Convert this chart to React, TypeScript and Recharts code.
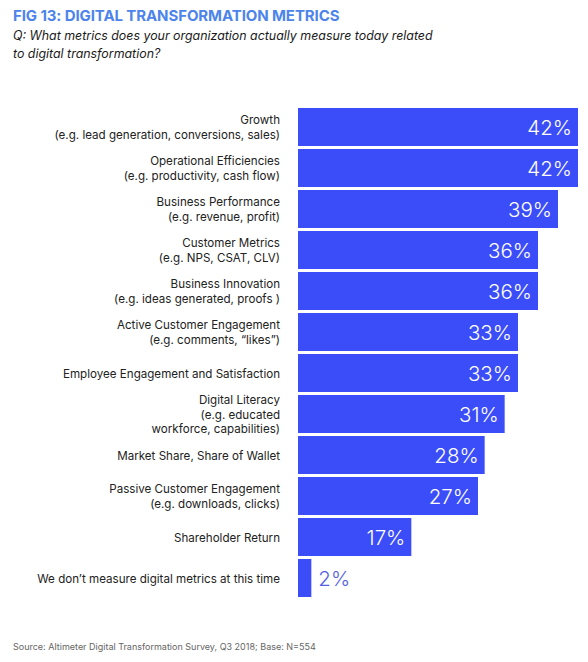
import React from "react";
import { BarChart, Bar, XAxis, YAxis, LabelList } from "recharts";

const categories: string[] = [
  "Growth\n(e.g. lead generation, conversions, sales)",
  "Operational Efficiencies\n(e.g. productivity, cash flow)",
  "Business Performance\n(e.g. revenue, profit)",
  "Customer Metrics\n(e.g. NPS, CSAT, CLV)",
  "Business Innovation\n(e.g. ideas generated, proofs )",
  "Active Customer Engagement\n(e.g. comments, \u201clikes\u201d)",
  "Employee Engagement and Satisfaction",
  "Digital Literacy\n(e.g. educated\nworkforce, capabilities)",
  "Market Share, Share of Wallet",
  "Passive Customer Engagement\n(e.g. downloads, clicks)",
  "Shareholder Return",
  "We don\u2019t measure digital metrics at this time",
];

const values: number[] = [42, 42, 39, 36, 36, 33, 33, 31, 28, 27, 17, 2];

const title = "FIG 13: DIGITAL TRANSFORMATION METRICS";
const subtitleLines = [
  "Q: What metrics does your organization actually measure today related",
  "to digital transformation?",
];
const source = "Source: Altimeter Digital Transformation Survey, Q3 2018; Base: N=554";

const data = categories.map((name, i) => ({ name, value: values[i] }));

const BAR_COLOR = "#3A4DF8";
const FONT = "Inter, 'Open Sans', 'DejaVu Sans', sans-serif";

const CategoryTick = (props: any) => {
  const { x, y, payload } = props;
  const lines = String(payload.value).split("\n");
  const lh = 14.5;
  const startDy = -((lines.length - 1) * lh) / 2 + 4.5;
  return (
    <text
      x={x}
      y={y}
      textAnchor="end"
      fontFamily={FONT}
      fontSize={11.6}
      fill="#222"
    >
      {lines.map((l, i) => (
        <tspan key={i} x={x} dy={i === 0 ? startDy : lh}>
          {l}
        </tspan>
      ))}
    </text>
  );
};

const ValueLabel = (props: any) => {
  const { x, y, width, height, value } = props;
  const cy = y + height / 2 + 7.5;
  if (width < 50) {
    return (
      <text
        x={x + width + 7}
        y={cy}
        textAnchor="start"
        fontFamily={FONT}
        fontWeight={300}
        fontSize={20.5}
        fill="#5560E6"
      >
        {`${value}%`}
      </text>
    );
  }
  return (
    <text
      x={x + width - 6}
      y={cy}
      textAnchor="end"
      fontFamily={FONT}
      fontWeight={300}
      fontSize={20.5}
      fill="#ffffff"
    >
      {`${value}%`}
    </text>
  );
};

export default function App() {
  return (
    <div
      style={{
        position: "absolute",
        left: 0,
        top: 0,
        width: 588,
        height: 662,
        background: "#fff",
        fontFamily: FONT,
      }}
    >
      <div
        style={{
          position: "absolute",
          left: 13,
          top: 6,
          fontSize: 15,
          fontWeight: 700,
          color: "#4C84EB",
          whiteSpace: "nowrap",
          letterSpacing: -0.1,
        }}
      >
        {title}
      </div>
      <div
        style={{
          position: "absolute",
          left: 13,
          top: 27,
          fontSize: 12.4,
          fontStyle: "italic",
          color: "#1a1a1a",
          lineHeight: "18px",
          whiteSpace: "nowrap",
        }}
      >
        {subtitleLines.map((l, i) => (
          <div key={i}>{l}</div>
        ))}
      </div>
      <div style={{ position: "absolute", left: 0, top: 0 }}>
        <BarChart
          width={588}
          height={662}
          data={data}
          layout="vertical"
          margin={{ top: 106.5, right: 10, bottom: 63.5, left: 0 }}
          barCategoryGap={1.5}
        >
          <XAxis type="number" domain={[0, 42]} hide />
          <YAxis
            type="category"
            dataKey="name"
            width={298}
            axisLine={false}
            tickLine={false}
            tickMargin={12}
            interval={0}
            tick={<CategoryTick />}
          />
          <Bar dataKey="value" fill={BAR_COLOR} isAnimationActive={false}>
            <LabelList dataKey="value" content={<ValueLabel />} />
          </Bar>
        </BarChart>
      </div>
      <div
        style={{
          position: "absolute",
          left: 13,
          top: 641,
          fontSize: 9,
          color: "#666",
          whiteSpace: "nowrap",
        }}
      >
        {source}
      </div>
    </div>
  );
}
